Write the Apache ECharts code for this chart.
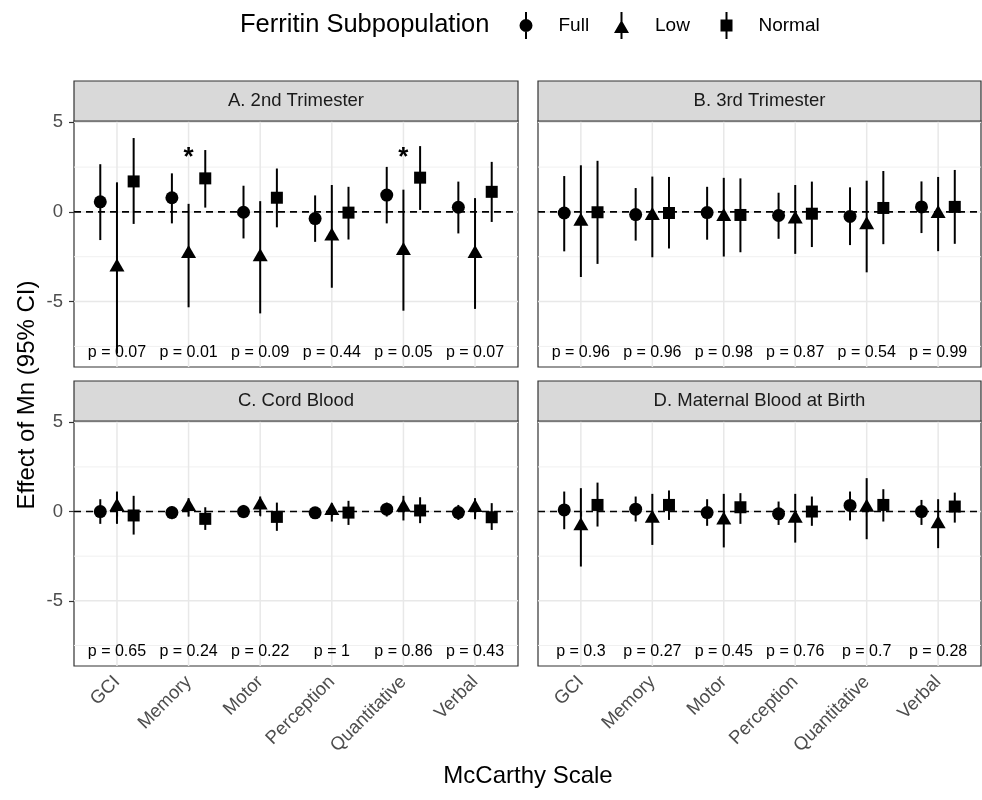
<!DOCTYPE html>
<html>
<head>
<meta charset="utf-8">
<script src="https://cdn.jsdelivr.net/npm/echarts@6/dist/echarts.min.js"></script>
<style>
  html, body { margin: 0; padding: 0; background: #fff; }
  #chart { width: 982px; height: 800px; }
</style>
</head>
<body>
<div id="chart"></div>
<script>
const categories = ['GCI', 'Memory', 'Motor', 'Perception', 'Quantitative', 'Verbal'];
const groups = ['Full', 'Low', 'Normal'];
const panelTitles = ['A. 2nd Trimester', 'B. 3rd Trimester', 'C. Cord Blood', 'D. Maternal Blood at Birth'];

// [estimate, lower, upper] per category
const A_Full = [[0.56, -1.57, 2.66], [0.79, -0.64, 2.15], [-0.02, -1.48, 1.46], [-0.37, -1.67, 0.92], [0.94, -0.64, 2.51], [0.26, -1.2, 1.69]];
const A_Low = [[-3.07, -7.9, 1.65], [-2.32, -5.32, 0.45], [-2.5, -5.66, 0.6], [-1.35, -4.23, 1.5], [-2.15, -5.51, 1.24], [-2.32, -5.41, 0.77]];
const A_Normal = [[1.7, -0.67, 4.12], [1.87, 0.24, 3.45], [0.79, -0.86, 2.42], [-0.04, -1.54, 1.4], [1.91, 0.11, 3.67], [1.12, -0.56, 2.79]];

const B_Full = [[-0.06, -2.2, 2.0], [-0.15, -1.6, 1.33], [-0.04, -1.55, 1.4], [-0.2, -1.5, 1.07], [-0.25, -1.85, 1.37], [0.28, -1.18, 1.7]];
const B_Low = [[-0.52, -3.63, 2.6], [-0.2, -2.53, 1.97], [-0.25, -2.49, 1.9], [-0.4, -2.34, 1.5], [-0.71, -3.37, 1.74], [-0.09, -2.19, 1.95]];
const B_Normal = [[-0.02, -2.9, 2.85], [-0.06, -2.04, 1.95], [-0.17, -2.25, 1.87], [-0.1, -1.96, 1.69], [0.22, -1.8, 2.28], [0.28, -1.78, 2.34]];

const C_Full = [[0, -0.69, 0.69], [-0.06, -0.43, 0.28], [0, -0.37, 0.37], [-0.07, -0.37, 0.19], [0.13, -0.28, 0.5], [-0.06, -0.47, 0.37]];
const C_Low = [[0.28, -0.69, 1.12], [0.28, -0.28, 0.75], [0.37, -0.24, 0.84], [0.06, -0.56, 0.47], [0.24, -0.5, 0.88], [0.22, -0.43, 0.75]];
const C_Normal = [[-0.22, -1.29, 0.88], [-0.41, -1.03, 0.24], [-0.3, -1.08, 0.5], [-0.06, -0.75, 0.6], [0.06, -0.65, 0.8], [-0.32, -1.03, 0.47]];

const D_Full = [[0.09, -0.99, 1.12], [0.13, -0.56, 0.84], [-0.06, -0.8, 0.69], [-0.13, -0.75, 0.56], [0.34, -0.5, 1.12], [0, -0.75, 0.65]];
const D_Low = [[-0.8, -3.08, 1.31], [-0.37, -1.87, 0.99], [-0.47, -2.01, 0.99], [-0.37, -1.74, 0.99], [0.24, -1.55, 1.87], [-0.69, -2.05, 0.69]];
const D_Normal = [[0.37, -0.84, 1.62], [0.37, -0.47, 1.18], [0.24, -0.69, 1.03], [0, -0.8, 0.84], [0.37, -0.56, 1.25], [0.28, -0.62, 1.06]];

const pA = ['0.07', '0.01', '0.09', '0.44', '0.05', '0.07'];
const pB = ['0.96', '0.96', '0.98', '0.87', '0.54', '0.99'];
const pC = ['0.65', '0.24', '0.22', '1', '0.86', '0.43'];
const pD = ['0.3', '0.27', '0.45', '0.76', '0.7', '0.28'];
const starsA = ['', '*', '', '', '*', ''];
const starsNone = ['', '', '', '', '', ''];

const yMajor = [-5, 0, 5];
const yMinor = [-7.5, -2.5, 2.5];

const panelData = [
  [A_Full, A_Low, A_Normal],
  [B_Full, B_Low, B_Normal],
  [C_Full, C_Low, C_Normal],
  [D_Full, D_Low, D_Normal]
];
const panelP = [pA, pB, pC, pD];
const panelStars = [starsA, starsNone, starsNone, starsNone];

const FONT = '"Liberation Sans", Arial, sans-serif';
const xMin = 0.4, xMax = 6.6;
const yMin = -8.65, yMax = 5.07;
const dodge = [-0.233, 0, 0.233];
const pLabelY = -7.85;
const starY = 3.0;
const catTicks = categories.map((c, i) => i + 1);

// panel boxes (pixels)
const boxes = [
  { left: 74, top: 121, width: 444, height: 246 },
  { left: 538, top: 121, width: 443, height: 246 },
  { left: 74, top: 421, width: 444, height: 245 },
  { left: 538, top: 421, width: 443, height: 245 }
];
const stripH = 40;

const symbols = ['circle', 'triangle', 'rect'];
const symbolSizes = [13, [15, 13], 12];
const symbolOffsets = [[0, 0], [0, -2], [0, 0]];

const chart = echarts.init(document.getElementById('chart'));

const grids = [], xAxes = [], yAxes = [], series = [], graphics = [];

boxes.forEach((b, i) => {
  const bottomRow = i >= 2;
  const leftCol = i % 2 === 0;
  grids.push({
    left: b.left, top: b.top, width: b.width, height: b.height,
    show: true, borderColor: '#333', borderWidth: 1.2, backgroundColor: '#fff'
  });
  xAxes.push({
    type: 'value', gridIndex: i, min: xMin, max: xMax,
    splitLine: { show: false }, axisLine: { show: false },
    axisTick: { show: bottomRow, customValues: catTicks, length: 5, lineStyle: { color: '#333', width: 1.2 } },
    axisLabel: {
      show: bottomRow, customValues: catTicks, rotate: 45, margin: 13,
      fontSize: 18.5, color: '#4d4d4d', fontFamily: FONT,
      formatter: v => categories[Math.round(v) - 1]
    }
  });
  yAxes.push({
    type: 'value', gridIndex: i, min: yMin, max: yMax,
    splitLine: { show: false }, axisLine: { show: false },
    axisTick: { show: leftCol, customValues: yMajor, length: 5, lineStyle: { color: '#333', width: 1.2 } },
    axisLabel: { show: leftCol, customValues: yMajor, margin: 11, fontSize: 18.5, color: '#4d4d4d', fontFamily: FONT }
  });

  // background grid lines
  series.push({
    type: 'custom', xAxisIndex: i, yAxisIndex: i, silent: true, z: 0,
    data: [0],
    renderItem: (params, api) => {
      const children = [];
      const x0 = api.coord([xMin, 0])[0], x1 = api.coord([xMax, 0])[0];
      const yT = api.coord([0, yMax])[1], yB = api.coord([0, yMin])[1];
      yMinor.forEach(v => {
        const y = api.coord([0, v])[1];
        children.push({ type: 'line', shape: { x1: x0, y1: y, x2: x1, y2: y }, style: { stroke: '#f0f0f0', lineWidth: 1 } });
      });
      yMajor.forEach(v => {
        const y = api.coord([0, v])[1];
        children.push({ type: 'line', shape: { x1: x0, y1: y, x2: x1, y2: y }, style: { stroke: '#e8e8e8', lineWidth: 1.5 } });
      });
      catTicks.forEach(v => {
        const x = api.coord([v, 0])[0];
        children.push({ type: 'line', shape: { x1: x, y1: yT, x2: x, y2: yB }, style: { stroke: '#e8e8e8', lineWidth: 1.5 } });
      });
      return { type: 'group', children };
    }
  });

  // dashed zero line
  series.push({
    type: 'custom', xAxisIndex: i, yAxisIndex: i, silent: true, z: 1,
    data: [[0, 0]],
    renderItem: (params, api) => {
      const a = api.coord([xMin, 0]), c = api.coord([xMax, 0]);
      return { type: 'line', shape: { x1: a[0], y1: a[1], x2: c[0], y2: c[1] }, style: { stroke: '#000', lineWidth: 1.6, lineDash: [7, 5] } };
    }
  });

  groups.forEach((g, gi) => {
    const rows = panelData[i][gi];
    series.push({
      name: g, type: 'custom', xAxisIndex: i, yAxisIndex: i, z: 2,
      data: rows.map((r, ci) => [ci + 1 + dodge[gi], r[1], r[2]]),
      encode: { x: 0, y: [1, 2] },
      renderItem: (params, api) => {
        const p1 = api.coord([api.value(0), api.value(1)]);
        const p2 = api.coord([api.value(0), api.value(2)]);
        return { type: 'line', shape: { x1: p1[0], y1: p1[1], x2: p2[0], y2: p2[1] }, style: { stroke: '#000', lineWidth: 2 } };
      }
    });
    series.push({
      name: g, type: 'scatter', xAxisIndex: i, yAxisIndex: i, z: 3,
      symbol: symbols[gi], symbolSize: symbolSizes[gi], symbolOffset: symbolOffsets[gi],
      itemStyle: { color: '#000', opacity: 1 },
      data: rows.map((r, ci) => [ci + 1 + dodge[gi], r[0]])
    });
  });

  // p-value labels and stars
  const pv = panelP[i], st = panelStars[i];
  series.push({
    type: 'custom', xAxisIndex: i, yAxisIndex: i, silent: true, z: 4,
    data: catTicks.map(v => [v, pLabelY]),
    renderItem: (params, api) => {
      const k = params.dataIndex;
      const pt = api.coord([api.value(0), api.value(1)]);
      const children = [{
        type: 'text', x: pt[0], y: pt[1],
        style: { text: 'p = ' + pv[k], align: 'center', verticalAlign: 'middle', font: '16px ' + FONT, fill: '#000' }
      }];
      if (st[k]) {
        const sp = api.coord([api.value(0), starY]);
        children.push({
          type: 'text', x: sp[0], y: sp[1],
          style: { text: st[k], align: 'center', verticalAlign: 'middle', font: 'bold 26px ' + FONT, fill: '#000' }
        });
      }
      return { type: 'group', children };
    }
  });

  // strip
  graphics.push({
    type: 'rect', z: 10,
    shape: { x: b.left, y: b.top - stripH, width: b.width, height: stripH },
    style: { fill: '#d9d9d9', stroke: '#333', lineWidth: 1.2 }
  });
  graphics.push({
    type: 'text', z: 11, x: b.left + b.width / 2, y: b.top - stripH / 2,
    style: { text: panelTitles[i], align: 'center', verticalAlign: 'middle', font: '18.5px ' + FONT, fill: '#1a1a1a' }
  });
});

graphics.push({
  type: 'text', x: 240, y: 25,
  style: { text: 'Ferritin Subpopulation', align: 'left', verticalAlign: 'middle', font: '25.5px ' + FONT, fill: '#000' }
});
graphics.push({
  type: 'text', x: 27, y: 395, rotation: Math.PI / 2,
  style: { text: 'Effect of Mn (95% CI)', align: 'center', verticalAlign: 'middle', font: '24px ' + FONT, fill: '#000' }
});
graphics.push({
  type: 'text', x: 528, y: 776,
  style: { text: 'McCarthy Scale', align: 'center', verticalAlign: 'middle', font: '24px ' + FONT, fill: '#000' }
});

const legendIcons = [
  'path://M5.5,0h2v27h-2z M0,13.5 A6.5,6.5 0 0,1 13,13.5 A6.5,6.5 0 0,1 0,13.5 Z',
  'path://M6.5,0h2v27h-2z M0,21 L7.5,8 L15,21 Z',
  'path://M5,0h2v27h-2z M0,7.5h12v12h-12z'
];
const legendW = [13, 15, 12];
const legendLeft = [519.5, 614, 720.5];
const legends = groups.map((g, gi) => ({
  data: [{ name: g, icon: legendIcons[gi] }],
  left: legendLeft[gi], top: 12, padding: 0,
  itemWidth: legendW[gi], itemHeight: 27,
  itemStyle: { color: '#000' },
  textStyle: { fontSize: 19, color: '#000', fontFamily: FONT, padding: [0, 0, 0, 21] }
}));

chart.setOption({
  animation: false,
  backgroundColor: '#fff',
  legend: legends,
  grid: grids,
  xAxis: xAxes,
  yAxis: yAxes,
  series: series,
  graphic: graphics
});
</script>
</body>
</html>
